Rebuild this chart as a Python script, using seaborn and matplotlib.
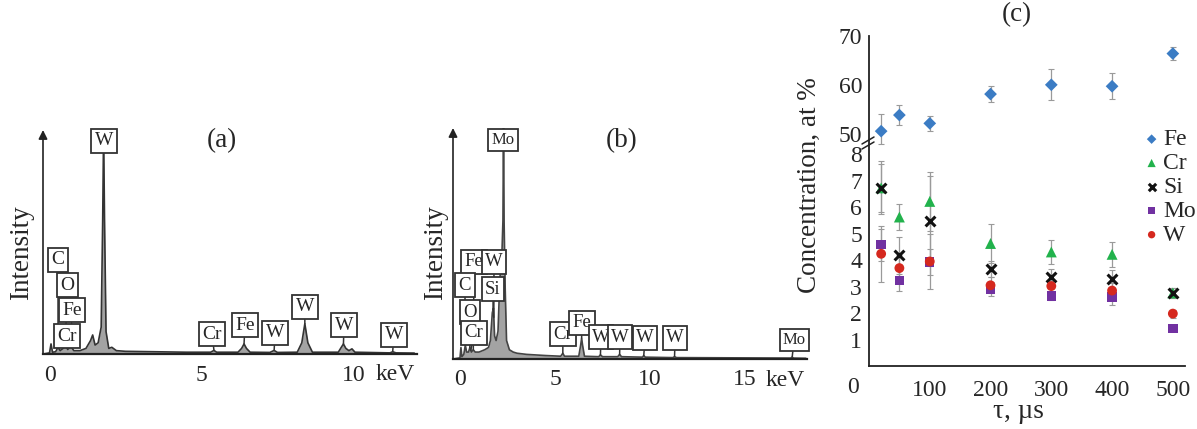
import numpy as np
import pandas as pd
import matplotlib
matplotlib.use("Agg")
import matplotlib.pyplot as plt
import seaborn as sns

# ---------------- data ----------------
# (a) EDS spectrum, energy (keV) vs relative intensity (%)
spec_a_energy = [-0.2, 0.0, 0.05, 0.1, 0.2, 0.28, 0.35, 0.45, 0.52, 0.6, 0.7, 0.8, 1.0, 1.2,
                 1.35, 1.42, 1.5, 1.6, 1.7, 1.75, 1.78, 1.81, 1.86, 1.95, 2.05, 2.2, 2.5, 3.5,
                 4.5, 5.3, 5.41, 5.5, 6.2, 6.32, 6.40, 6.48, 6.6, 7.25, 7.39, 7.5, 8.15, 8.3,
                 8.40, 8.5, 8.65, 9.5, 9.6, 9.67, 9.75, 9.85, 9.95, 10.05, 11.2, 11.29, 11.4, 12.0]
spec_a_counts = [0, 0.5, 4.5, 0.8, 1.0, 3.0, 1.5, 2.5, 4.0, 2.0, 3.5, 1.5, 1.5, 2.5,
                 6.0, 8.5, 4.0, 5.0, 12.0, 60.0, 100.0, 60.0, 10.0, 2.5, 3.0, 1.5, 1.2, 1.0,
                 0.8, 0.8, 1.6, 0.8, 0.8, 2.5, 4.5, 2.5, 0.8, 0.7, 1.6, 0.7, 0.8, 5.0,
                 13.5, 5.0, 0.8, 0.8, 3.0, 4.5, 2.5, 1.5, 2.3, 0.8, 0.5, 1.0, 0.5, 0.4]
peaks_a_label = ["W", "C", "O", "Fe", "Cr", "Cr", "Fe", "W", "W", "W", "W"]
peaks_a_energy = [1.78, 0.28, 0.52, 0.70, 0.57, 5.41, 6.40, 7.39, 8.40, 9.67, 11.29]

# (b) EDS spectrum
spec_b_energy = [-0.35, 0.0, 0.05, 0.1, 0.2, 0.28, 0.35, 0.45, 0.52, 0.6, 0.7, 0.8, 1.0, 1.3,
                 1.5, 1.6, 1.7, 1.76, 1.82, 1.9, 2.0, 2.1, 2.2, 2.26, 2.29, 2.32, 2.38, 2.45,
                 2.6, 2.8, 3.0, 3.5, 4.5, 5.3, 5.41, 5.5, 6.25, 6.35, 6.40, 6.45, 6.55, 7.3,
                 7.39, 7.5, 8.3, 8.40, 8.5, 9.6, 9.67, 9.75, 11.2, 11.29, 11.4, 17.4, 17.48,
                 17.56, 18.2]
spec_b_counts = [0, 0.5, 5.0, 1.0, 2.0, 6.0, 3.0, 3.0, 5.0, 3.0, 4.0, 3.0, 3.0, 4.0,
                 5.0, 8.0, 20.0, 22.0, 10.0, 8.0, 12.0, 35.0, 44.0, 60.0, 100.0, 60.0, 30.0, 8.0,
                 4.0, 3.0, 2.5, 2.0, 1.5, 1.2, 2.5, 1.2, 1.2, 6.0, 9.0, 6.0, 1.2, 1.0,
                 1.8, 1.0, 1.0, 2.0, 1.0, 0.8, 1.5, 0.8, 0.6, 1.0, 0.6, 0.4, 0.8,
                 0.4, 0.3]
peaks_b_label = ["Mo", "Fe", "W", "C", "Si", "O", "Cr", "Cr", "Fe", "W", "W", "W", "W", "Mo"]
peaks_b_energy = [2.29, 0.70, 1.78, 0.28, 1.74, 0.52, 0.57, 5.41, 6.40, 7.39, 8.40, 9.67, 11.29, 17.48]

# (c) concentration vs pulse duration
tau = [20, 50, 100, 200, 300, 400, 500]
elements = ["Fe", "Cr", "Si", "Mo", "W"]
conc_fe = [50.5, 53.8, 52.1, 58.1, 60.0, 59.7, 66.4]
err_fe = [3.6, 2.0, 1.5, 1.6, 3.2, 2.7, 1.3]
conc_cr = [6.73, 5.63, 6.22, 4.63, 4.31, 4.22, 2.76]
err_cr = [1.0, 0.5, 1.1, 0.75, 0.47, 0.47, 0.2]
conc_si = [6.73, 4.18, 5.47, 3.68, 3.38, 3.29, 2.76]
err_si = [0.9, 0.7, 1.7, 0.3, 0.3, 0.35, 0.2]
conc_mo = [4.58, 3.24, 3.93, 2.91, 2.64, 2.61, 1.41]
err_mo = [0.6, 0.4, 0.5, 0.25, 0.15, 0.3, 0.1]
conc_w = [4.24, 3.70, 3.95, 3.05, 3.02, 2.85, 1.98]
err_w = [1.05, 0.5, 1.05, 0.3, 0.2, 0.3, 0.15]

# ---------------- style ----------------
sns.set_style("white")
plt.rcParams["font.family"] = ["Liberation Serif", "DejaVu Serif"]
plt.rcParams["axes.unicode_minus"] = False

TICK_FS = 17
LABEL_FS = 19.5

W_PX, H_PX = 1197, 429
fig = plt.figure(figsize=(W_PX / 100, H_PX / 100), dpi=100)


def fx(x):
    return x / W_PX


def fy(y):
    return 1 - y / H_PX


def box_ax(l, t, r, b):
    return fig.add_axes([fx(l), fy(b), fx(r) - fx(l), fy(t) - fy(b)])


def spectrum_panel(ax, energy, counts, xlim, ticks, lab_pos, labels, peak_e,
                   fs_lab, keV_x, main_color):
    ax.fill_between(energy, counts, 0, color="#a3a3a3", lw=0, zorder=1)
    sns.lineplot(x=energy, y=counts, ax=ax, color=main_color, lw=1.2,
                 sort=False, estimator=None, zorder=2)
    ax.set_xlim(*xlim)
    ax.set_ylim(0, 100)
    ax.set_yticks([])
    ax.set_xticks(ticks)
    ax.set_xticklabels([str(t) for t in ticks])
    for s in ["top", "right", "left"]:
        ax.spines[s].set_visible(False)
    ax.spines["bottom"].set_color("#222222")
    ax.spines["bottom"].set_linewidth(1.6)
    ax.annotate("", xy=(0, 1), xytext=(0, 0), xycoords="axes fraction",
                arrowprops=dict(arrowstyle="-|>", color="#222222", lw=1.2,
                                mutation_scale=13, shrinkA=0, shrinkB=0))
    ax.set_xlabel("")
    ax.set_ylabel("")
    ax.text(keV_x, -0.093, "keV", transform=ax.get_xaxis_transform(),
            ha="center", va="center", fontsize=TICK_FS)
    for (lx, ly), lab, pe in zip(lab_pos, labels, peak_e):
        fsz = fs_lab - (1.5 if lab == "Mo" else 0)
        i_peak = np.interp(pe, energy, counts)
        ax.annotate(lab, xy=(pe, min(i_peak, ly)), xytext=(lx, ly),
                    ha="center", va="center", fontsize=fsz, zorder=6,
                    bbox=dict(boxstyle="square,pad=0.18", fc="white", ec="#333333", lw=1.3),
                    arrowprops=dict(arrowstyle="-", color="#333333", lw=1.1,
                                    shrinkA=0, shrinkB=0))


# ---- panel (a)
ax_a = box_ax(43, 130, 417, 354)
lab_pos_a = [(1.79, 95.1), (0.28, 42.0), (0.59, 30.8), (0.74, 19.6), (0.58, 8.0),
             (5.35, 8.9), (6.43, 12.9), (7.42, 9.4), (8.40, 21.0), (9.69, 12.9), (11.33, 8.5)]
spectrum_panel(ax_a, spec_a_energy, spec_a_counts, (-0.214, 12.09), [0, 5, 10],
               lab_pos_a, peaks_a_label, peaks_a_energy, 14, 11.37, "#333333")
ax_a.tick_params(axis="x", length=0, pad=8, labelsize=TICK_FS)

# ---- panel (b)
ax_b = box_ax(453, 128, 807, 359)
lab_pos_b = [(2.26, 94.8), (0.74, 42.0), (1.79, 42.0), (0.26, 32.0), (1.74, 30.3),
             (0.53, 20.3), (0.74, 11.3), (5.42, 10.8), (6.42, 15.6), (7.42, 9.5),
             (8.42, 9.5), (9.74, 9.1), (11.32, 9.1), (17.58, 8.2)]
spectrum_panel(ax_b, spec_b_energy, spec_b_counts, (-0.368, 18.26), [0, 5, 10, 15],
               lab_pos_b, peaks_b_label, peaks_b_energy, 13.5, 17.1, "#444444")
ax_b.tick_params(axis="x", direction="in", length=5, width=1.2, color="#222222",
                 pad=7, labelsize=TICK_FS)

fig.text(fx(222), fy(141), "(a)", ha="center", va="center", fontsize=LABEL_FS)
fig.text(fx(622), fy(141), "(b)", ha="center", va="center", fontsize=LABEL_FS)
fig.text(fx(22), fy(253), "Intensity", rotation=90, ha="center", va="center", fontsize=LABEL_FS)
fig.text(fx(436), fy(253), "Intensity", rotation=90, ha="center", va="center", fontsize=LABEL_FS)

# ---- panel (c) with broken y axis
ax_c = box_ax(869, 36, 1185, 366)
brk_v = [-1000.0, 0.0, 8.4, 47.97, 50.0, 1000.0]
brk_f = [-26460.0, 0.0, 222.3, 222.5, 232.4, 232.4 + 950 * 4.88]


def fwd(v):
    return np.interp(v, brk_v, brk_f)


def inv(f):
    return np.interp(f, brk_f, brk_v)


ax_c.set_yscale("function", functions=(fwd, inv))

series = {
    "Fe": (conc_fe, err_fe, "D", "#3b7cc4", 42),
    "Cr": (conc_cr, err_cr, "^", "#22b24c", 62),
    "Si": (conc_si, err_si, "x", "#111111", 50),
    "Mo": (conc_mo, err_mo, "s", "#7131a1", 45),
    "W": (conc_w, err_w, "o", "#d5281e", 50),
}
for el in elements:
    vals, errs, mk, col, sz = series[el]
    ax_c.errorbar(tau, vals, yerr=errs, fmt="none", ecolor="#9a9a9a",
                  elinewidth=0.9, capsize=2.2, capthick=0.8, zorder=1)
for el in elements:
    vals, errs, mk, col, sz = series[el]
    df = pd.DataFrame({"tau": tau, "conc": vals})
    if mk == "x":
        sns.scatterplot(data=df, x="tau", y="conc", ax=ax_c, marker=mk, color=col,
                        s=sz, linewidth=2.2, label=el, zorder=3)
    else:
        sns.scatterplot(data=df, x="tau", y="conc", ax=ax_c, marker=mk, color=col,
                        s=sz, edgecolor="none", label=el, zorder=3)

ax_c.set_xlim(0, 520)
ax_c.set_ylim(0, 70)
ax_c.set_xticks([100, 200, 300, 400, 500])
ax_c.set_yticks([1, 2, 3, 4, 5, 6, 7, 8, 50, 60, 70])
ax_c.set_yticklabels(["1", "2", "3", "4", "5", "6", "7", "8", "50", "60", "70"])
ax_c.minorticks_off()
for s in ["top", "right"]:
    ax_c.spines[s].set_visible(False)
for s in ["left", "bottom"]:
    ax_c.spines[s].set_color("#222222")
    ax_c.spines[s].set_linewidth(1.3)
ax_c.tick_params(axis="both", direction="in", length=8, width=1.2, color="#222222",
                 labelsize=TICK_FS)
ax_c.tick_params(axis="y", pad=5)
ax_c.tick_params(axis="x", pad=10)
ax_c.set_xlabel("")
ax_c.set_ylabel("")
ax_c.annotate("0", xy=(0, 0), xycoords="axes fraction", xytext=(-11.5, -15.8),
              textcoords="offset points", ha="center", va="center", fontsize=TICK_FS)

# break marks on the y axis
dx, dy = 1 / 316, 1 / 330
yb = 223 * dy
for off in (0, 5):
    ax_c.plot([-7 * dx, 5 * dx], [yb - (off + 1) * dy, yb - (off - 6) * dy],
              transform=ax_c.transAxes, color="#222222", lw=1.1, clip_on=False)

leg = ax_c.legend(loc="upper left", bbox_to_anchor=(fx(1128), fy(117)),
                  bbox_transform=fig.transFigure, frameon=False, fontsize=17,
                  handletextpad=0.0, labelspacing=0.1, borderpad=0,
                  handlelength=1.0, markerscale=0.75)

fig.text(fx(1017), fy(15), "(c)", ha="center", va="center", fontsize=LABEL_FS)
fig.text(fx(1018), fy(412), "τ, µs", ha="center", va="center", fontsize=LABEL_FS)
fig.text(fx(809), fy(185), "Concentration, at %", rotation=90,
         ha="center", va="center", fontsize=LABEL_FS)

fig.savefig("out.png", dpi=100)
